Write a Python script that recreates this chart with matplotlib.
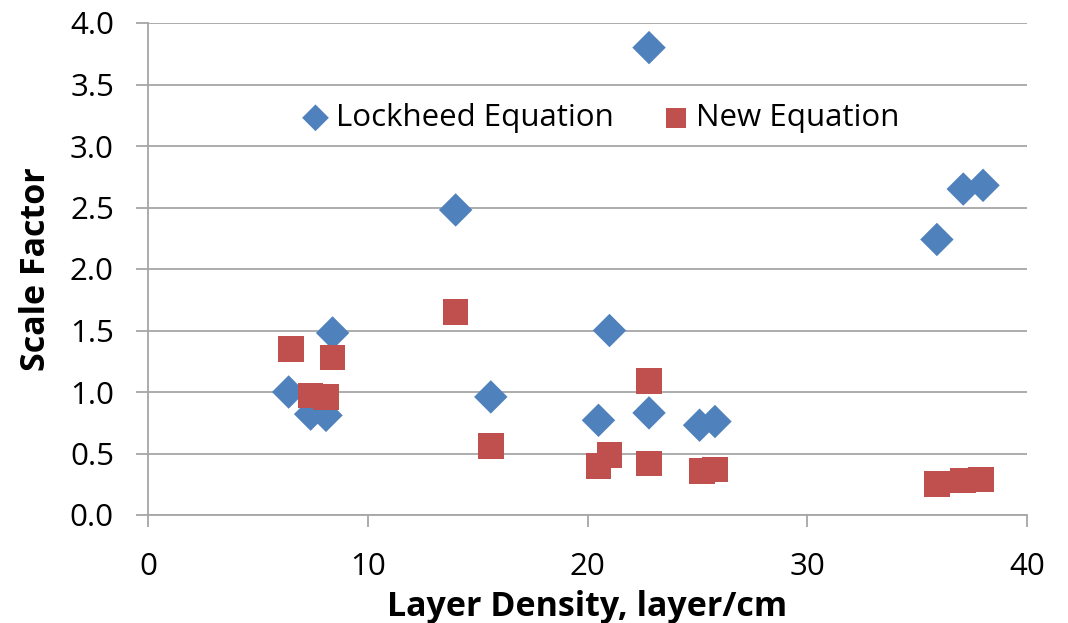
import matplotlib
matplotlib.use("Agg")
import matplotlib.pyplot as plt

lock_x = [6.4, 7.4, 8.1, 8.4, 14.0, 15.6, 20.5, 21.0, 22.8, 22.8, 25.1, 25.8, 35.9, 37.1, 38.0]
lock_y = [1.00, 0.82, 0.81, 1.48, 2.48, 0.96, 0.77, 1.50, 3.80, 0.83, 0.73, 0.76, 2.24, 2.65, 2.68]
new_x = [6.5, 7.4, 8.1, 8.4, 14.0, 15.6, 20.5, 21.0, 22.8, 22.8, 25.2, 25.8, 35.9, 37.1, 37.9]
new_y = [1.35, 0.97, 0.96, 1.28, 1.65, 0.56, 0.40, 0.49, 1.09, 0.42, 0.36, 0.37, 0.25, 0.28, 0.29]

x_ticks = [0, 10, 20, 30, 40]
y_ticks = [0.0, 0.5, 1.0, 1.5, 2.0, 2.5, 3.0, 3.5, 4.0]

plt.rcParams['font.family'] = ['Open Sans', 'DejaVu Sans']

fig = plt.figure(figsize=(10.68, 6.23), dpi=100)
ax = fig.add_axes([148/1068, 1-515/623, (1027-148)/1068, (515-23)/623])

grid_c = '#a6a6a6'
ax.set_xlim(0, 40)
ax.set_ylim(0, 4.0)
ax.set_xticks(x_ticks)
ax.set_yticks(y_ticks)
ax.set_yticklabels([f"{v:.1f}" for v in y_ticks])
ax.set_xticklabels([str(v) for v in x_ticks])
ax.grid(axis='y', color=grid_c, linewidth=1.3)
ax.set_axisbelow(True)
for s in ['top', 'right']:
    ax.spines[s].set_visible(False)
for s in ['left', 'bottom']:
    ax.spines[s].set_color(grid_c)
    ax.spines[s].set_linewidth(1.3)
ax.tick_params(axis='both', length=8.5, width=1.3, color=grid_c, labelsize=22.5)
ax.tick_params(axis='x', pad=18)
ax.tick_params(axis='y', pad=16)

ax.scatter(lock_x, lock_y, marker='D', s=290, color='#4F81BD', label='Lockheed Equation',
           edgecolors='none', zorder=3)
ax.scatter(new_x, new_y, marker='s', s=340, color='#C0504D', label='New Equation',
           edgecolors='none', zorder=3)

ax.set_xlabel('Layer Density, layer/cm', fontsize=24.5, fontweight='bold', labelpad=6)
ax.set_ylabel('Scale Factor', fontsize=24.5, fontweight='bold', labelpad=12)

leg = ax.legend(loc='center', bbox_to_anchor=(0.514, (515-118)/492), ncol=2, frameon=False,
                fontsize=22.5, markerscale=0.8, handlelength=1.0, handletextpad=0.15,
                columnspacing=1.5, scatterpoints=1)

fig.savefig('out.png', dpi=100)
